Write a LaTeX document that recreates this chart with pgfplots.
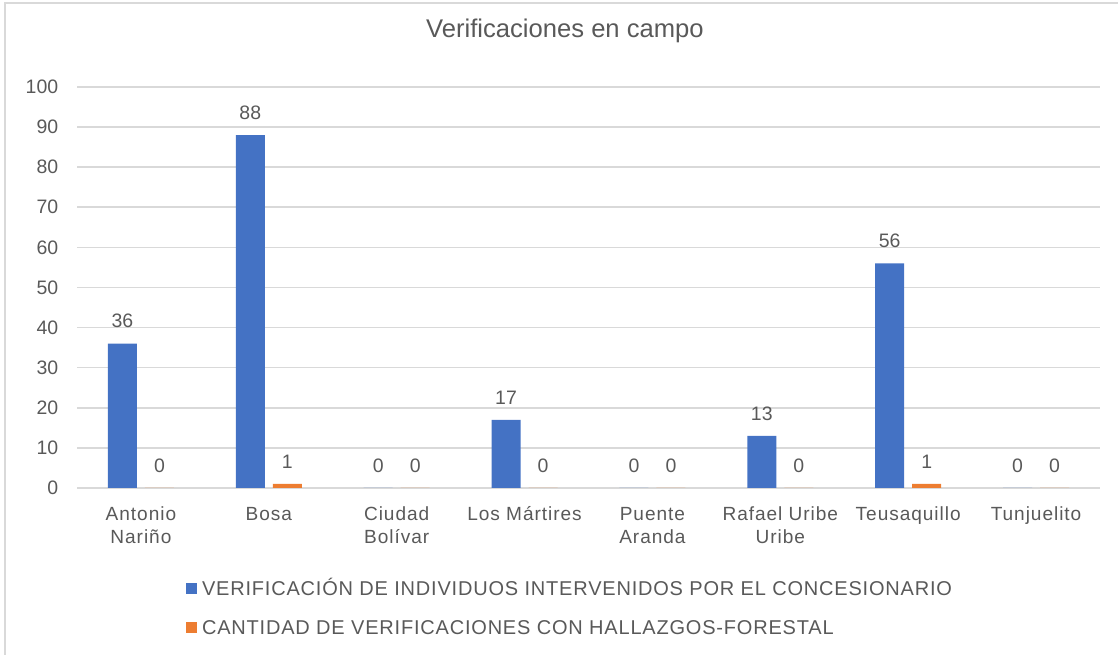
\documentclass[border=0pt]{standalone}
\usepackage{pgfplots}
\pgfplotsset{compat=1.18}
\usepackage{fontspec}
\setmainfont{Liberation Sans}
\newfontfamily\catfont{Liberation Sans}[LetterSpace=5]
\newfontfamily\legfont{Liberation Sans}[LetterSpace=4]
\definecolor{cblue}{HTML}{4472C4}
\definecolor{corange}{HTML}{ED7D31}
\definecolor{textc}{HTML}{595959}
\definecolor{gridc}{HTML}{D9D9D9}
\newcommand\fl{\rule{0pt}{13pt}}
\begin{document}
\begin{tikzpicture}[x=1pt,y=1pt]
\path[use as bounding box] (0,0) rectangle (838.5,491.25);
\draw[gridc, line width=1.2pt] (3.75,0) -- (3.75,489) -- (838.5,489);
\begin{axis}[
  at={(57.75pt,125.25pt)}, anchor=south west,
  scale only axis, width=767.25pt, height=300.75pt,
  ybar=6pt, bar width=21.75pt,
  xmin=-0.5, xmax=7.5, ymin=0, ymax=100,
  ytick={0,10,...,100},
  xtick={0,...,7},
  xticklabels={\fl Antonio\\Nariño, \fl Bosa, \fl Ciudad\\Bolívar, \fl Los Mártires, \fl Puente\\Aranda, \fl Rafael Uribe\\Uribe, \fl Teusaquillo, \fl Tunjuelito},
  xticklabel style={align=center, font=\catfont\fontsize{14.3}{17.25}\selectfont, text=textc, inner sep=0pt, anchor=north, yshift=-11.25pt},
  yticklabel style={font=\fontsize{14.6}{17}\selectfont, text=textc, inner sep=0pt, anchor=east, xshift=-13.9pt},
  /pgf/number format/assume math mode=true,
  ymajorgrids, grid style={gridc, line width=1.2pt},
  axis line style={draw=none},
  major tick length=0pt,
  tick style={draw=none},
  nodes near coords,
  every node near coord/.append style={font=\fontsize{14.6}{17}\selectfont, text=textc, inner sep=0pt, anchor=south, yshift=11.5pt},
  title={Verificaciones en campo},
  title style={at={(axis description cs:0.477,1.1047)}, anchor=base, font=\fontsize{19.2}{22}\selectfont, text=textc, inner sep=0pt},
  legend style={draw=none, fill=none, inner sep=0pt, outer sep=0pt,
    at={(axis description cs:0.1066,-0.2987)}, anchor=west,
    font=\legfont\fontsize{15}{17}\selectfont, text=textc,
    nodes={inner sep=0pt, text height=10.7pt, text depth=0pt},
    row sep=18.8pt, column sep=3.75pt},
  legend cell align=left,
  legend columns=1,
]
\addplot[fill=cblue, draw=none, legend image code/.code={\fill[cblue] (0pt,-4.125pt) rectangle (8.25pt,4.125pt);}]
  coordinates {(0,36) (1,88) (2,0) (3,17) (4,0) (5,13) (6,56) (7,0)};
\addplot[fill=corange, draw=none, legend image code/.code={\fill[corange] (0pt,-4.125pt) rectangle (8.25pt,4.125pt);}]
  coordinates {(0,0) (1,1) (2,0) (3,0) (4,0) (5,0) (6,1) (7,0)};
\legend{VERIFICACIÓN DE INDIVIDUOS INTERVENIDOS POR EL CONCESIONARIO, CANTIDAD DE VERIFICACIONES CON HALLAZGOS-FORESTAL}
\end{axis}
\end{tikzpicture}
\end{document}
